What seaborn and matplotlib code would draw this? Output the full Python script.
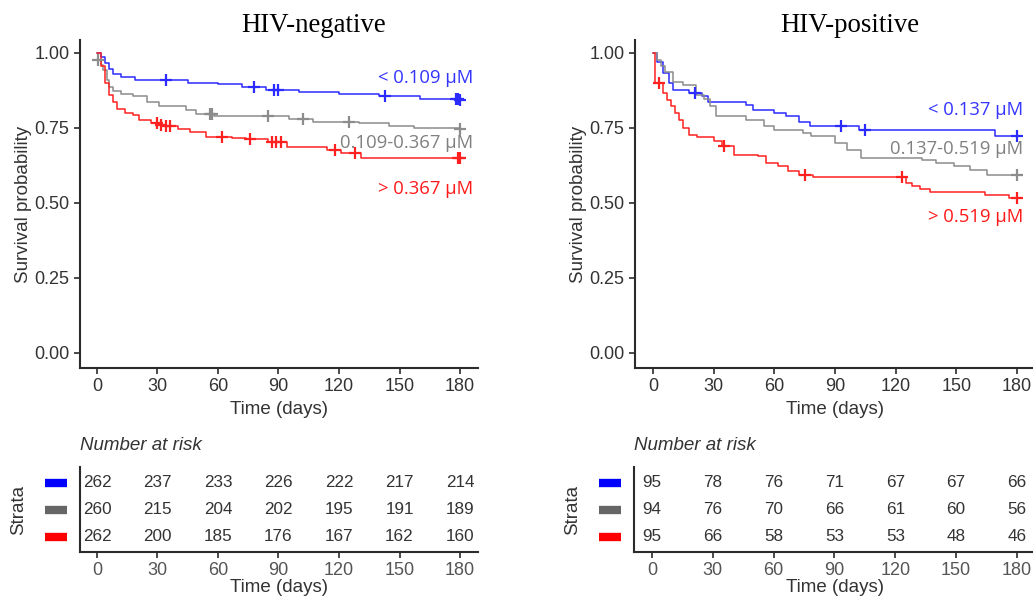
import numpy as np
import pandas as pd
import matplotlib
matplotlib.use("Agg")
import matplotlib.pyplot as plt
import matplotlib.transforms as mtrans
import seaborn as sns

# ---------------- data ----------------
panel_titles = ["HIV-negative", "HIV-positive"]
strata_neg = ["< 0.109 \u00b5M", "0.109-0.367 \u00b5M", "> 0.367 \u00b5M"]
strata_pos = ["< 0.137 \u00b5M", "0.137-0.519 \u00b5M", "> 0.519 \u00b5M"]

# HIV-negative step curves (time, survival after step)
neg_low_t = [0, 2, 4, 6, 8, 12, 19, 45, 60, 72, 84, 100, 120, 140, 160, 180]
neg_low_s = [1.0, 0.985, 0.966, 0.945, 0.93, 0.92, 0.91, 0.901, 0.896, 0.888, 0.877, 0.870, 0.864, 0.856, 0.846, 0.843]
neg_low_cens = [34, 78, 88, 90, 143, 178, 179, 180]

neg_mid_t = [0, 0.5, 2, 3, 5, 6, 8, 12, 18, 25, 31, 44, 49, 58, 95, 107, 130, 145, 157, 180]
neg_mid_s = [1.0, 0.977, 0.96, 0.943, 0.91, 0.888, 0.872, 0.862, 0.855, 0.838, 0.822, 0.81, 0.795, 0.79, 0.779, 0.771, 0.766, 0.755, 0.749, 0.746]
neg_mid_cens = [0.5, 56, 57, 85, 102, 125, 180]

neg_high_t = [0, 2, 4, 6, 8, 10, 14, 18, 21, 27, 31, 33, 40, 46, 54, 67, 74, 85, 94, 114, 121, 131, 180]
neg_high_s = [1.0, 0.955, 0.9, 0.86, 0.835, 0.812, 0.8, 0.793, 0.777, 0.766, 0.76, 0.755, 0.745, 0.735, 0.721, 0.717, 0.712, 0.703, 0.688, 0.677, 0.666, 0.65, 0.65]
neg_high_cens = [30, 32, 34, 36, 62, 76, 87, 89, 91, 118, 128, 179, 180]

# HIV-positive step curves
pos_low_t = [0, 2, 5, 8, 10, 18, 24, 27, 46, 49.5, 60, 66, 72, 77.6, 102, 169, 180]
pos_low_s = [1.0, 0.97, 0.932, 0.9, 0.877, 0.866, 0.855, 0.838, 0.827, 0.81, 0.8, 0.79, 0.77, 0.755, 0.743, 0.723, 0.723]
pos_low_cens = [21, 93, 105, 180]

pos_mid_t = [0, 2, 4, 6, 10, 15, 21.5, 25, 28, 31, 46, 55, 60, 74, 78, 90, 96, 103, 133, 140, 149, 157, 165, 180]
pos_mid_s = [1.0, 0.978, 0.956, 0.938, 0.904, 0.893, 0.86, 0.845, 0.822, 0.789, 0.777, 0.755, 0.744, 0.733, 0.722, 0.70, 0.678, 0.65, 0.644, 0.633, 0.622, 0.61, 0.594, 0.594]
pos_mid_cens = [180]

pos_high_t = [0, 1, 5, 7, 9, 11, 13, 15, 18, 22, 30, 34, 40, 52, 56, 62, 67, 72, 79, 125, 128, 132, 137, 164, 176, 180]
pos_high_s = [1.0, 0.9, 0.866, 0.844, 0.822, 0.8, 0.778, 0.75, 0.728, 0.72, 0.705, 0.689, 0.661, 0.656, 0.633, 0.622, 0.606, 0.594, 0.587, 0.567, 0.555, 0.545, 0.538, 0.527, 0.515, 0.515]
pos_high_cens = [3, 35, 75, 123, 180]

risk_times = [0, 30, 60, 90, 120, 150, 180]
neg_risk_low = [262, 237, 233, 226, 222, 217, 214]
neg_risk_mid = [260, 215, 204, 202, 195, 191, 189]
neg_risk_high = [262, 200, 185, 176, 167, 162, 160]
pos_risk_low = [95, 78, 76, 71, 67, 67, 66]
pos_risk_mid = [94, 76, 70, 66, 61, 60, 56]
pos_risk_high = [95, 66, 58, 53, 53, 48, 46]

y_ticks = [0.0, 0.25, 0.5, 0.75, 1.0]
y_ticklabels = ["0.00", "0.25", "0.50", "0.75", "1.00"]

# ---------------- styling ----------------
sns.set_style("ticks")
plt.rcParams["font.family"] = ["Liberation Sans", "DejaVu Sans"]
line_cols = ["#2b2bff", "#8c8c8c", "#ff2020"]
text_cols = ["#3434ff", "#808080", "#ff1a1a"]
bar_cols = ["#0000ff", "#666666", "#ff0000"]
axis_col = "#2b2b2b"
tick_col = "#333333"

fig = plt.figure(figsize=(10.33, 6.0), dpi=100)
W, H = 1033.0, 600.0

def fa(l, t, r, b):
    return fig.add_axes([l / W, 1 - b / H, (r - l) / W, (b - t) / H])

def step_val(t, s, x):
    idx = np.searchsorted(np.asarray(t), x, side="right") - 1
    return np.asarray(s)[idx]

panels = [
    dict(title=panel_titles[0], strata=strata_neg,
         curves=[(neg_low_t, neg_low_s, neg_low_cens),
                 (neg_mid_t, neg_mid_s, neg_mid_cens),
                 (neg_high_t, neg_high_s, neg_high_cens)],
         risk=[neg_risk_low, neg_risk_mid, neg_risk_high],
         main=(80, 40, 478, 368), tab=(80, 467, 478, 552),
         xlim=(-8.4, 188.9), lab_x=186.4, lab_y=[0.918, 0.70, 0.547],
         title_x=314),
    dict(title=panel_titles[1], strata=strata_pos,
         curves=[(pos_low_t, pos_low_s, pos_low_cens),
                 (pos_mid_t, pos_mid_s, pos_mid_cens),
                 (pos_high_t, pos_high_s, pos_high_cens)],
         risk=[pos_risk_low, pos_risk_mid, pos_risk_high],
         main=(635, 40, 1036, 368), tab=(634, 467, 1036, 552),
         xlim=(-8.9, 189.4), lab_x=183.0, lab_y=[0.81, 0.68, 0.453],
         title_x=850),
]

for p in panels:
    ax = fa(*p["main"])
    for i, (t, s, cens) in enumerate(p["curves"]):
        df = pd.DataFrame({"time": t, "surv": s})
        sns.lineplot(data=df, x="time", y="surv", ax=ax, color=line_cols[i],
                     drawstyle="steps-post", estimator=None, sort=False,
                     linewidth=1.1, legend=False)
        cdf = pd.DataFrame({"time": cens, "surv": step_val(t, s, cens)})
        sns.scatterplot(data=cdf, x="time", y="surv", ax=ax, marker="+",
                        color=line_cols[i], s=85, linewidth=1.6, legend=False,
                        zorder=3)
        ax.text(p["lab_x"], p["lab_y"][i], p["strata"][i], ha="right",
                va="center", color=text_cols[i], fontsize=13.3,
                family=["Open Sans", "DejaVu Sans"])
    ax.set_xlim(*p["xlim"])
    ax.set_ylim(-0.05, 1.0433)
    ax.set_xticks(risk_times)
    ax.set_xticklabels([str(v) for v in risk_times])
    ax.set_yticks(y_ticks)
    ax.set_yticklabels(y_ticklabels)
    ax.set_xlabel("Time (days)", fontsize=13.5, color=tick_col, labelpad=4)
    ax.set_ylabel("Survival probability", fontsize=13.5, color=tick_col, labelpad=2)
    ax.tick_params(axis="both", labelsize=13, colors=axis_col,
                   labelcolor=tick_col, length=4, width=1.2, pad=3.5)
    for sp in ["top", "right"]:
        ax.spines[sp].set_visible(False)
    for sp in ["left", "bottom"]:
        ax.spines[sp].set_color(axis_col)
        ax.spines[sp].set_linewidth(1.5)
    fig.text(p["title_x"] / W, 1 - 25 / H, p["title"], ha="center",
             va="center", fontsize=19.3, family=["Liberation Serif", "DejaVu Serif"],
             color="black")

    # risk table
    tb = fa(*p["tab"])
    tb.set_xlim(*p["xlim"])
    tb.set_ylim(0.44, 3.59)
    rows = [3, 2, 1]
    for i, counts in enumerate(p["risk"]):
        for tt, n in zip(risk_times, counts):
            tb.text(tt, rows[i], str(n), ha="center", va="center",
                    fontsize=12.3, color="#333333")
        trans = mtrans.blended_transform_factory(tb.transAxes, tb.transData)
        tb.plot([-0.088, -0.033], [rows[i], rows[i]], transform=trans,
                color=bar_cols[i], linewidth=6, solid_capstyle="butt",
                clip_on=False)
    tb.set_xticks(risk_times)
    tb.set_xticklabels([str(v) for v in risk_times])
    tb.set_yticks([])
    tb.set_xlabel("Time (days)", fontsize=13.5, color=tick_col, labelpad=0.5)
    tb.tick_params(axis="x", labelsize=13, colors=axis_col,
                   labelcolor="#555555", length=4, width=1.2, pad=3)
    for sp in ["top", "right"]:
        tb.spines[sp].set_visible(False)
    for sp in ["left", "bottom"]:
        tb.spines[sp].set_color(axis_col)
        tb.spines[sp].set_linewidth(1.5)
    tb.text(-0.153, 0.5, "Strata", transform=tb.transAxes, rotation=90,
            ha="center", va="center", fontsize=13.5, color=tick_col)
    tb.text(0.0, 1 - (446 - p["tab"][1]) / (p["tab"][3] - p["tab"][1]),
            "Number at risk", transform=tb.transAxes, ha="left",
            va="center", fontsize=13.5, style="italic", color=tick_col)

fig.savefig("out.png", dpi=100, facecolor="white")
